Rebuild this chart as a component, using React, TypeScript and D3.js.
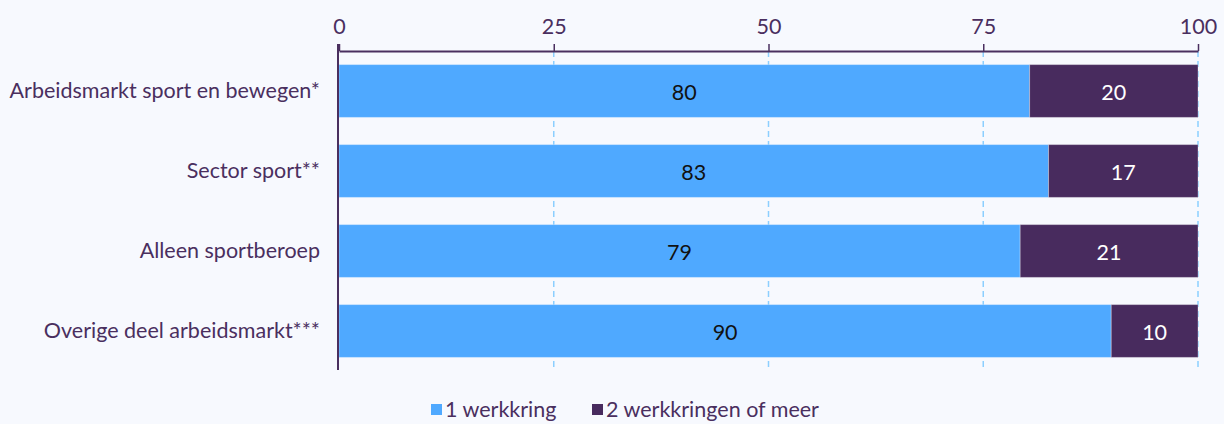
import { useEffect, useRef } from 'react';
import * as d3 from 'd3';

const categories = [
  'Arbeidsmarkt sport en bewegen*',
  'Sector sport**',
  'Alleen sportberoep',
  'Overige deel arbeidsmarkt***',
];
const oneJob = [80.4, 82.6, 79.3, 89.9];
const moreJobs = [19.6, 17.4, 20.7, 10.1];
const seriesNames = ['1 werkkring', '2 werkkringen of meer'];
const xTicks = [0, 25, 50, 75, 100];

const svgWidth = 1224;
const svgHeight = 424;
const blue = '#4fa9ff';
const purple = '#482b5e';
const textColor = '#4a2f5f';
const font = 'Lato, sans-serif';
const fontSize = 21.5;

function App() {
  const ref = useRef(null);

  useEffect(() => {
    const svg = d3.select(ref.current);
    svg.selectAll('*').remove();

    const left = 339;
    const right = 1198;
    const top = 51;
    const bottom = 371;

    const x = d3.scaleLinear().domain([0, 100]).range([left, right]);
    const y = d3
      .scaleBand()
      .domain(categories)
      .range([top, bottom])
      .paddingInner(0.34)
      .paddingOuter(0.17);

    // background
    svg
      .append('rect')
      .attr('width', svgWidth)
      .attr('height', svgHeight)
      .attr('fill', '#f7f9fe');

    // grid
    svg
      .append('g')
      .selectAll()
      .data(xTicks.slice(1))
      .join('line')
      .attr('x1', (d) => x(d))
      .attr('x2', (d) => x(d))
      .attr('y1', top)
      .attr('y2', bottom)
      .attr('stroke', '#8ccfff')
      .attr('stroke-width', 1.5)
      .attr('stroke-dasharray', '6,4');

    const rows = categories.map((c, i) => ({ cat: c, a: oneJob[i], b: moreJobs[i] }));

    // bars
    const bars = svg.append('g');
    bars
      .selectAll()
      .data(rows)
      .join('rect')
      .attr('x', x(0))
      .attr('y', (d) => y(d.cat) as number)
      .attr('width', (d) => x(d.a) - x(0))
      .attr('height', y.bandwidth())
      .attr('fill', blue)
      .attr('stroke', 'rgba(255,255,255,0.3)')
      .attr('stroke-width', 1);
    bars
      .selectAll()
      .data(rows)
      .join('rect')
      .attr('x', (d) => x(d.a))
      .attr('y', (d) => y(d.cat) as number)
      .attr('width', (d) => x(d.a + d.b) - x(d.a))
      .attr('height', y.bandwidth())
      .attr('fill', purple)
      .attr('stroke', 'rgba(255,255,255,0.3)')
      .attr('stroke-width', 1);

    // value labels
    const labels = svg
      .append('g')
      .attr('font-family', font)
      .attr('font-size', fontSize)
      .attr('text-anchor', 'middle')
      .attr('dominant-baseline', 'central');
    labels
      .selectAll()
      .data(rows)
      .join('text')
      .attr('x', (d) => (x(0) + x(d.a)) / 2)
      .attr('y', (d) => (y(d.cat) as number) + y.bandwidth() / 2 + 1)
      .attr('fill', '#111')
      .text((d) => Math.round(d.a));
    labels
      .selectAll()
      .data(rows)
      .join('text')
      .attr('x', (d) => (x(d.a) + x(d.a + d.b)) / 2)
      .attr('y', (d) => (y(d.cat) as number) + y.bandwidth() / 2 + 1)
      .attr('fill', '#fff')
      .text((d) => Math.round(d.b));

    // top axis
    const xAxis = svg
      .append('g')
      .attr('transform', `translate(0, ${top})`)
      .call(d3.axisTop(x).tickValues(xTicks).tickSize(7).tickSizeOuter(0).tickPadding(10));
    xAxis.select('.domain').attr('stroke', textColor).attr('stroke-width', 2);
    xAxis.selectAll('.tick line').attr('stroke', textColor).attr('stroke-width', 1.5);
    xAxis
      .selectAll('.tick text')
      .attr('fill', textColor)
      .attr('font-family', font)
      .attr('font-size', fontSize);

    // left axis
    const yAxis = svg
      .append('g')
      .attr('transform', `translate(${left}, 0)`)
      .call(d3.axisLeft(y).tickSize(0).tickPadding(19));
    yAxis.select('.domain').remove();
    svg
      .append('line')
      .attr('x1', left - 1)
      .attr('x2', left - 1)
      .attr('y1', top - 7)
      .attr('y2', bottom - 1)
      .attr('stroke', textColor)
      .attr('stroke-width', 2);
    yAxis
      .selectAll('.tick text')
      .attr('fill', textColor)
      .attr('font-family', font)
      .attr('font-size', fontSize);

    // legend
    const legend = svg.append('g').attr('font-family', font).attr('font-size', fontSize);
    const legendX = [431, 592];
    const colors = [blue, purple];
    seriesNames.forEach((name, i) => {
      legend
        .append('rect')
        .attr('x', legendX[i])
        .attr('y', 404)
        .attr('width', 11)
        .attr('height', 11)
        .attr('fill', colors[i]);
      legend
        .append('text')
        .attr('x', legendX[i] + 14)
        .attr('y', 417)
        .attr('fill', textColor)
        .text(name);
    });
  }, []);

  return (
    <div style={{ position: 'absolute', left: 0, top: 0 }}>
      <svg ref={ref} width={svgWidth} height={svgHeight} style={{ display: 'block' }}></svg>
    </div>
  );
}

export default App;
